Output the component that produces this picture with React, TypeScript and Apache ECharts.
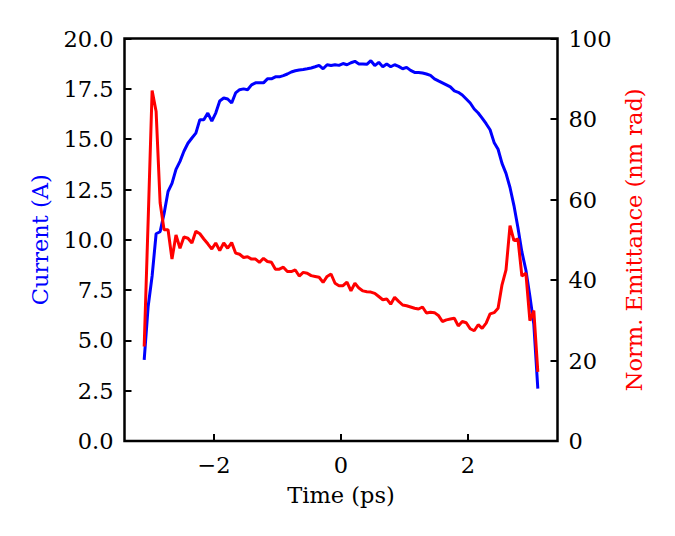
import React, { useEffect, useRef } from "react";
import * as echarts from "echarts";

const timePs = [
  -3.1, -3.037, -2.975, -2.912, -2.849, -2.787, -2.724, -2.662, -2.599, -2.536,
  -2.474, -2.411, -2.348, -2.286, -2.223, -2.161, -2.098, -2.035, -1.973, -1.91,
  -1.847, -1.785, -1.722, -1.66, -1.597, -1.534, -1.472, -1.409, -1.346, -1.284,
  -1.221, -1.159, -1.096, -1.033, -0.971, -0.908, -0.845, -0.783, -0.72, -0.658,
  -0.595, -0.532, -0.47, -0.407, -0.345, -0.282, -0.219, -0.157, -0.094, -0.032,
  0.032, 0.094, 0.157, 0.219, 0.282, 0.345, 0.407, 0.47, 0.532, 0.595,
  0.658, 0.72, 0.783, 0.845, 0.908, 0.971, 1.033, 1.096, 1.159, 1.221,
  1.284, 1.346, 1.409, 1.472, 1.534, 1.597, 1.66, 1.722, 1.785, 1.847,
  1.91, 1.973, 2.035, 2.098, 2.161, 2.223, 2.286, 2.348, 2.411, 2.474,
  2.536, 2.599, 2.662, 2.724, 2.787, 2.849, 2.912, 2.975, 3.037, 3.1,
];

const currentA = [
  4.03, 6.7, 8.2, 10.3, 10.4, 11.3, 12.4, 12.8, 13.5, 13.9,
  14.4, 14.8, 15.06, 15.3, 15.97, 15.97, 16.3, 15.9, 16.3, 16.9,
  17.05, 17.0, 16.8, 17.3, 17.46, 17.5, 17.46, 17.7, 17.8, 17.8,
  17.8, 18.0, 18.0, 18.1, 18.1, 18.16, 18.24, 18.34, 18.4, 18.44,
  18.46, 18.5, 18.54, 18.6, 18.67, 18.5, 18.7, 18.66, 18.7, 18.67,
  18.76, 18.7, 18.8, 18.87, 18.74, 18.74, 18.72, 18.9, 18.66, 18.82,
  18.6, 18.74, 18.6, 18.7, 18.62, 18.5, 18.57, 18.42, 18.32, 18.32,
  18.29, 18.24, 18.17, 18.0, 17.9, 17.8, 17.7, 17.6, 17.4, 17.33,
  17.2, 17.0, 16.8, 16.5, 16.3, 16.05, 15.77, 15.47, 14.84, 14.5,
  13.8, 13.3, 12.6, 11.7, 10.6, 9.4, 8.5, 7.2, 5.8, 2.6,
];

const emittanceNmRad = [
  23.5, 55, 87.1, 81.9, 59.2, 52.5, 52.5, 45.2, 51.2, 47.9,
  50.7, 50.4, 49.2, 52.1, 51.5, 50.2, 49.0, 47.7, 49.2, 47.3,
  49.2, 47.9, 49.3, 46.7, 46.4, 45.6, 45.8, 45.2, 45.2, 44.4,
  45.4, 44.6, 44.4, 42.7, 42.7, 43.2, 42.1, 42.1, 42.5, 41.0,
  41.9, 41.7, 41.1, 40.9, 40.7, 39.4, 40.9, 41.5, 39.2, 38.6,
  38.6, 39.5, 37.3, 39.2, 38.0, 37.3, 37.1, 37.0, 36.7, 35.9,
  35.1, 35.3, 34.0, 35.7, 34.7, 33.8, 33.6, 33.3, 33.0, 32.8,
  33.3, 31.8, 32.0, 31.9, 31.2, 29.7, 30.1, 30.3, 30.5, 28.6,
  29.7, 29.4, 27.9, 27.4, 28.9, 28.0, 29.3, 31.6, 31.9, 33.0,
  38.8, 42.5, 53.5, 49.8, 50.2, 41.0, 41.7, 29.9, 32.4, 17.2,
];

const xTicks = [-2, 0, 2];

const FONT = "DejaVu Serif";
const FS = 22.5;

export default function App() {
  const ref = useRef<HTMLDivElement>(null);

  useEffect(() => {
    if (!ref.current) return;
    const chart = echarts.init(ref.current, undefined, { renderer: "svg" });
    const labelStyle = { color: "#000", fontFamily: FONT, fontSize: FS };
    const tick = { show: true, inside: true, length: 7, lineStyle: { color: "#000", width: 2 } };
    const hiddenLine = { show: false, onZero: false };
    chart.setOption({
      animation: false,
      backgroundColor: "#fff",
      grid: {
        left: 124.5,
        right: 117.5,
        top: 38.6,
        bottom: 95,
        show: true,
        borderColor: "#000",
        borderWidth: 2.5,
        backgroundColor: "transparent",
        containLabel: false,
      },
      xAxis: {
        type: "value",
        min: -3.41,
        max: 3.41,
        name: "Time (ps)",
        nameLocation: "middle",
        nameGap: 42,
        nameTextStyle: { ...labelStyle },
        axisLine: hiddenLine,
        splitLine: { show: false },
        axisTick: { ...tick, customValues: xTicks },
        axisLabel: {
          ...labelStyle,
          margin: 12,
          customValues: xTicks,
          formatter: (v: number) => (v < 0 ? "\u2212" + Math.abs(v) : String(v)),
        },
      },
      yAxis: [
        {
          type: "value",
          position: "left",
          min: 0,
          max: 20,
          interval: 2.5,
          name: "Current (A)",
          nameLocation: "middle",
          nameRotate: 90,
          nameGap: 73,
          nameTextStyle: { ...labelStyle, color: "#0000ff" },
          axisLine: hiddenLine,
          splitLine: { show: false },
          axisTick: tick,
          axisLabel: { ...labelStyle, margin: 11, formatter: (v: number) => v.toFixed(1) },
        },
        {
          type: "value",
          position: "right",
          min: 0,
          max: 100,
          interval: 20,
          name: "Norm. Emittance (nm rad)",
          nameLocation: "middle",
          nameRotate: 90,
          nameGap: 64,
          nameTextStyle: { ...labelStyle, color: "#ff0000" },
          axisLine: hiddenLine,
          splitLine: { show: false },
          axisTick: tick,
          axisLabel: { ...labelStyle, margin: 11 },
        },
      ],
      series: [
        {
          type: "line",
          yAxisIndex: 0,
          data: timePs.map((t, i) => [t, currentA[i]]),
          showSymbol: false,
          symbol: "none",
          lineStyle: { color: "#0000ff", width: 3 },
          itemStyle: { color: "#0000ff" },
          z: 2,
        },
        {
          type: "line",
          yAxisIndex: 1,
          data: timePs.map((t, i) => [t, emittanceNmRad[i]]),
          showSymbol: false,
          symbol: "none",
          lineStyle: { color: "#ff0000", width: 3 },
          itemStyle: { color: "#ff0000" },
          z: 3,
        },
      ],
    });
    return () => chart.dispose();
  }, []);

  return (
    <div
      ref={ref}
      style={{ position: "absolute", left: 0, top: 0, width: 675, height: 536 }}
    />
  );
}
